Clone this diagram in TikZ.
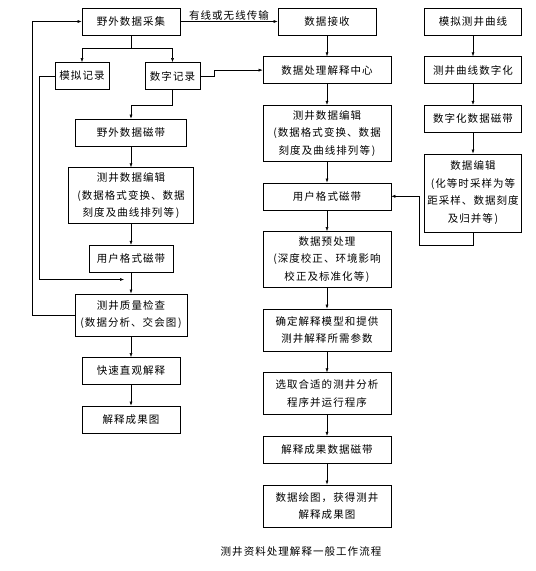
\documentclass[tikz,border=0pt]{standalone}
\usepackage{fontspec}
\setmainfont[LetterSpace=10]{Noto Sans CJK SC}
\usetikzlibrary{arrows.meta,positioning}
\tikzset{
  >={Latex[length=4pt,width=3pt]},
  box/.style={draw, line width=0.6pt, align=center, inner xsep=2pt, inner ysep=2pt, minimum height=27pt, font=\fontsize{10.5}{17.5}\selectfont},
  boxtwo/.style={box, minimum height=42pt},
  boxthree/.style={box, minimum height=56pt},
  boxfour/.style={box, minimum height=78pt},
  link/.style={line width=0.5pt, ->},
  note/.style={font=\fontsize{10.5}{12}\selectfont, inner sep=1pt},
}
\begin{document}
\begin{tikzpicture}[x=1pt, y=-1pt, node distance=21pt]
  \useasboundingbox (0,0) rectangle (536,571);
  % left column
  \node[box, minimum width=98pt] (collect) at (131,21.5) {野外数据采集};
  \node[box, minimum width=54pt] (analog) at (82,76) {模拟记录};
  \node[box, minimum width=55pt] (digital) at (172.5,76) {数字记录};
  \node[box, minimum width=111pt] (fieldtape) at (131,132.5) {野外数据磁带};
  \node[boxthree, minimum width=125pt, below=of fieldtape] (ledit) {测井数据编辑\\(数据格式变换、数据\\刻度及曲线排列等\,)};
  \node[box, minimum width=84pt, below=of ledit] (luser) {用户格式磁带};
  \node[boxtwo, minimum width=112pt, below=of luser] (lcheck) {测井质量检查\\(数据分析、交会图\,)};
  \node[box, minimum width=98pt, below=of lcheck] (quick) {快速直观解释};
  \node[box, minimum width=98pt, below=of quick] (lresult) {解释成果图};
  % middle column
  \node[box, minimum width=98pt] (receive) at (327,21.5) {数据接收};
  \node[box, minimum width=128pt, below=of receive] (center) {数据处理解释中心};
  \node[boxthree, minimum width=128pt, below=of center] (medit) {测井数据编辑\\(数据格式变换、数据\\刻度及曲线排列等\,)};
  \node[box, minimum width=128pt, below=of medit] (muser) {用户格式磁带};
  \node[boxthree, minimum width=128pt, below=of muser] (prep) {数据预处理\\(深度校正、环境影响\\校正及标准化等\,)};
  \node[boxtwo, minimum width=128pt, below=of prep] (model) {确定解释模型和提供\\测井解释所需参数};
  \node[boxtwo, minimum width=128pt, below=of model] (select) {选取合适的测井分析\\程序并运行程序};
  \node[box, minimum width=128pt, below=of select] (mtape) {解释成果数据磁带};
  \node[boxtwo, minimum width=128pt, below=of mtape] (plot) {数据绘图，获得测井\\解释成果图};
  % right column
  \node[box, minimum width=97pt] (curve) at (473,21.5) {模拟测井曲线};
  \node[box, minimum width=97pt, below=of curve] (digitize) {测井曲线数字化};
  \node[box, minimum width=97pt, below=of digitize] (dtape) {数字化数据磁带};
  \node[boxfour, minimum width=97pt, below=of dtape] (dedit) {数据编辑\\(化等时采样为等\\距采样、数据刻度\\及归并等\,)};
  % caption
  \node[note] (caption) at (301,552) {测井资料处理解释一般工作流程};

  \coordinate (merge) at ([shift={(-7,7)}]luser.south);

  \draw[link] (collect.south) -- ++(0,13) -| (analog.north);
  \draw[link] (collect.south) -- ++(0,13) -| (digital.north);
  \draw[link] (digital.south) -- ++(0,15) -| (fieldtape.north);
  \draw[link] (fieldtape) -- (ledit);
  \draw[link] (ledit) -- (luser);
  \draw[link] (luser) -- (lcheck);
  \draw[link] (lcheck) -- (quick);
  \draw[link] (quick) -- (lresult);
  \draw[link] (analog.west) -- ++(-15,0) |- (merge);
  \draw[link] (lcheck.west) -- ++(-42,0) |- (collect.west);
  \draw[link] (collect.east) -- node[note, above] {有线或无线传输} (receive.west);
  \draw[link] (digital.east) -- ++(14,0) |- (center.west);

  \draw[link] (receive) -- (center);
  \draw[link] (center) -- (medit);
  \draw[link] (medit) -- (muser);
  \draw[link] (muser) -- (prep);
  \draw[link] (prep) -- (model);
  \draw[link] (model) -- (select);
  \draw[link] (select) -- (mtape);
  \draw[link] (mtape) -- (plot);

  \draw[link] (curve) -- (digitize);
  \draw[link] (digitize) -- (dtape);
  \draw[link] (dtape) -- (dedit);
  \draw[link] (dedit.south) -- ++(0,13) -| ([xshift=28pt]muser.east) -- (muser.east);
\end{tikzpicture}
\end{document}
